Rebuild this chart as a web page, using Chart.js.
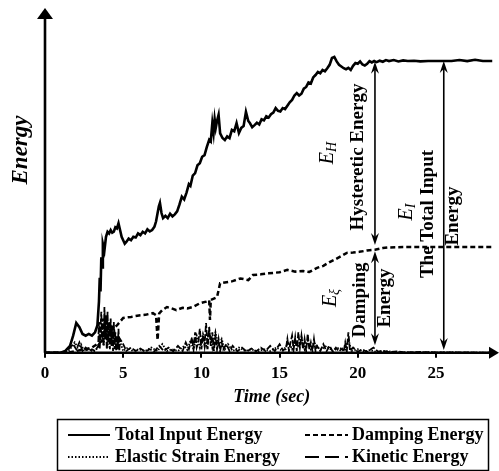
<!DOCTYPE html>
<html>
<head>
<meta charset="utf-8">
<script src="https://cdn.jsdelivr.net/npm/chart.js@4.4.1/dist/chart.umd.min.js"></script>
<style>
html,body{margin:0;padding:0;background:#fff;}
#wrap{width:499px;height:471px;position:relative;}
</style>
</head>
<body>
<div id="wrap"><canvas id="c" width="499" height="471"></canvas></div>
<script>
// ---- data: [time (sec), energy (arbitrary units 0..100)] ----
const xTicks = [0, 5, 10, 15, 20, 25];

const totalInput = [[0,0],[1.0,0],[1.3,0.5],[1.6,2],[1.8,5],[2.0,8.7],[2.2,7.5],[2.4,5.5],[2.6,5],[2.8,5.5],[3.0,5],[3.2,6],[3.35,8],[3.45,15],[3.5,22],[3.55,18],[3.6,28],[3.65,25],[3.7,32],[3.8,30],[3.9,34],[4.0,35.5],[4.1,35],[4.2,36],[4.3,35.2],[4.4,35.5],[4.5,36.8],[4.6,36.5],[4.7,38],[4.8,36],[4.9,34],[5.0,33],[5.1,32],
 [5.2,32.5],[5.35,33.5],[5.5,33],[5.65,34],[5.8,33.8],[5.95,35],[6.1,34.5],[6.25,35.5],[6.4,35],[6.55,36.2],[6.7,35.6],[6.85,36],[7.0,37],[7.1,38.5],[7.2,41],[7.28,43],[7.35,44],[7.45,41],[7.55,39.5],[7.7,40.2],[7.85,39.5],[8.0,40.8],[8.15,40],[8.3,40.6],[8.45,41.5],[8.6,43.5],[8.75,45.8],[8.9,45],[9.05,47],[9.2,49.5],[9.3,49],[9.45,52],[9.6,52.7],[9.75,55],[9.9,55.6],[10.05,57.5],[10.2,58],[10.35,60.4],[10.5,62.5],[10.6,62],[10.7,67.4],[10.78,64.5],[10.85,68.5],[10.92,66],[11.0,68],[11.1,69.8],[11.2,64.4],[11.35,63],[11.5,62.4],[11.65,63.5],[11.8,63],[11.95,65.4],[12.1,65],[12.25,67.4],[12.4,64.5],[12.55,66],[12.7,66.5],[12.85,70.7],[13.0,68],[13.1,67.4],[13.25,66.2],[13.4,66.8],[13.55,67.5],[13.7,67],[13.85,68.5],[14.0,68.2],[14.15,69.4],[14.3,69],[14.45,70],[14.6,70.5],[14.75,71.8],[14.9,71],[15.05,70.8],[15.2,71.8],[15.35,71.5],[15.5,72.5],[15.65,73.5],[15.8,74.2],[15.95,75.5],[16.1,76.2],[16.25,75.5],[16.4,76],[16.55,77.5],[16.7,78],[16.85,79.3],[17.0,79],[17.15,80.8],[17.3,81.5],[17.45,82.4],[17.6,82],[17.75,83],[17.9,82.6],[18.05,83.5],[18.2,84.5],[18.35,86.5],[18.5,86.8],[18.65,85.5],[18.8,84.5],[18.95,84],[19.1,83.5],[19.25,83.2],[19.4,83.6],[19.55,83],[19.7,84.2],[19.85,85],[20.0,84.8],[20.15,85.5],[20.3,84.6],[20.45,84.3],[20.6,84.8],[20.75,85.6],[20.9,85.2],[21.05,85.6],[21.2,85.3],[21.4,85.7],[21.6,85.4],[21.8,85.9],[22.0,85.6],[22.3,85.9],[22.6,85.5],[22.9,85.8],[23.2,85.6],[23.6,85.7],[24.0,85.5],[24.5,85.6],[25.0,85.6],[26.0,85.6],[26.5,85.9],[27.0,85.6],[27.5,86.0],[28.0,85.6],[28.6,85.6]];

const damping = [[0,0],[1.5,0],[2.0,0.5],[2.5,1],[3.0,1.5],[3.5,3],[3.8,4],[4.0,6],[4.3,7],[4.6,8],[5.0,10.2],[5.5,10.5],[6.1,11],[6.5,11.2],[6.9,11.6],[7.1,11],[7.2,3.7],[7.3,11.5],[7.5,12.5],[7.8,13.4],[8.1,13],[8.4,12.5],[8.8,13.2],[9.1,13],[9.5,13.5],[9.9,14.5],[10.3,15],[10.5,15.4],[10.55,9.6],[10.6,15.5],[11.0,16.3],[11.2,20.4],[11.6,20.7],[12.0,21],[12.5,21.8],[13.0,21.3],[13.3,22.8],[13.8,23],[14.3,23.3],[15.0,23.6],[15.5,24.3],[16.0,23.8],[16.5,24],[16.9,23.7],[17.4,24.9],[17.8,25.5],[18.2,26.6],[18.6,27.5],[19.0,28.5],[19.3,29.3],[19.7,29.4],[20.1,29.6],[20.6,30],[21.1,30.2],[21.6,30.7],[22.0,30.9],[23.0,31],[24.0,31],[25.0,31],[26.0,31],[27.0,31],[28.6,31]];

const kinetic = [[0,0],[1.0,0],[1.2,0.3],[1.5,1],[1.8,2.5],[2.0,1],[2.2,3],[2.4,0.5],[2.6,1.5],[2.8,0.5],[3.0,1],[3.2,0.5],
 [3.4,2],[3.45,9],[3.5,1],[3.55,7],[3.6,12],[3.65,3],[3.7,10],[3.75,2],[3.8,13.4],[3.85,4],[3.9,11],[3.95,1],[4.0,12],[4.05,3],[4.1,9],[4.15,1],[4.2,10],[4.25,2],[4.3,8],[4.35,0.5],[4.4,9],[4.45,1],[4.5,6],[4.55,0.5],[4.6,5],[4.65,1],[4.7,7],[4.75,0.5],[4.8,4],
 [5.0,2.5],[5.2,0.5],[5.5,1.5],[5.8,0.5],[6.1,1.2],[6.4,0.3],[6.7,1],[7.0,0.4],[7.3,2],[7.6,0.5],[7.9,1.5],[8.2,0.4],[8.5,2],[8.8,0.5],[9.0,3],[9.2,1],
 [9.4,4.5],[9.5,1],[9.6,6],[9.7,1.5],[9.8,3],[9.9,7],[10.0,1],[10.1,5],[10.2,2],[10.3,8.7],[10.4,1],[10.5,7.5],[10.6,2],[10.7,6],[10.8,0.5],[10.9,5],[11.0,1],[11.1,4],[11.2,0.5],[11.3,3],[11.4,1],
 [11.6,2.5],[11.8,0.5],[12.0,2],[12.3,0.4],[12.6,1.5],[12.9,0.3],[13.2,1.2],[13.5,0.4],[13.8,1.5],[14.1,0.5],[14.4,2],[14.7,0.5],[15.0,2.5],[15.2,0.8],
 [15.4,1],[15.5,4],[15.6,0.5],[15.7,3],[15.8,5],[15.9,1],[16.0,4.5],[16.1,0.5],[16.2,6],[16.3,1.5],[16.4,5],[16.5,1],[16.6,4],[16.7,0.5],[16.8,5.5],[16.9,1],[17.0,3],[17.1,0.5],[17.2,4],[17.3,0.5],[17.4,2],
 [17.6,0.5],[17.8,2.5],[18.0,0.4],[18.2,2],[18.4,0.3],[18.6,1.5],[18.8,0.4],[19.0,1.2],[19.1,0.3],[19.2,3],[19.3,0.4],[19.4,6],[19.5,0.5],[19.7,1.5],[20.0,0.3],[20.3,1],[20.6,0.2],[21.0,1.5],[21.3,0.3],[21.6,0.6],[22.0,0.2],[22.5,0.4],[23.0,0.1],[24.0,0.2],[25.0,0.1],[26.0,0.1],[28.6,0]];

const elasticStrain = [[0,0],[1.3,0],[1.6,1],[1.9,3],[2.1,1.5],[2.3,2.5],[2.5,0.5],[2.8,1],[3.1,0.3],[3.4,1.5],[3.6,6],[3.75,2],[3.85,8],[4.0,1.5],[4.15,9],[4.3,2],[4.45,6],[4.6,1],[4.75,4],[5.0,0.5],[5.3,1.5],[5.6,0.5],[6.0,1],[6.4,0.5],[6.8,1.5],[7.2,0.5],[7.5,2.5],[7.8,0.5],[8.1,1],[8.5,0.5],[8.9,2],[9.1,0.8],[9.3,3.5],[9.5,1],[9.7,5],[9.9,1.5],[10.1,5.5],[10.3,2],[10.5,6.5],[10.7,1.5],[10.9,6],[11.1,2],[11.3,4],[11.5,1],[11.7,2.5],[12.0,0.5],[12.4,1.5],[12.8,0.5],[13.2,1],[13.6,0.4],[14.0,1],[14.4,0.5],[14.8,1.5],[15.2,0.5],[15.6,3],[15.8,1],[16.0,3.5],[16.2,1.5],[16.4,4.5],[16.6,1],[16.8,3.5],[17.0,1],[17.2,3],[17.6,0.8],[18.0,2],[18.4,0.5],[18.8,1.5],[19.2,0.6],[19.4,4],[19.6,0.5],[20.0,1],[20.4,0.3],[20.8,0.8],[21.2,0.2],[21.8,0.5],[22.5,0.1],[24.0,0.1],[28.6,0]];

// annotation values
const arrowHystT = 21.1, arrowTotalT = 25.5;
const totalPlateau = 85.4, dampPlateau = 30.4;

const seriesNames = ['Total Input Energy','Damping Energy','Elastic Strain Energy','Kinetic Energy'];

function pts(arr){ return arr.map(p => ({x: p[0], y: p[1]})); }

const SERIF = '"Liberation Serif", "DejaVu Serif", serif';

function arrowHead(ctx, x, y, dir){ // dir -1 up, +1 down; (x,y) tip
  const L = 12, W = 4;
  ctx.beginPath();
  ctx.moveTo(x, y);
  ctx.lineTo(x - W, y - dir*L);
  ctx.lineTo(x, y - dir*(L-4));
  ctx.lineTo(x + W, y - dir*L);
  ctx.closePath();
  ctx.fill();
}
function vArrow(ctx, x, y1, y2){
  ctx.beginPath(); ctx.moveTo(x, y1+4); ctx.lineTo(x, y2-4); ctx.stroke();
  arrowHead(ctx, x, y1, -1);
  arrowHead(ctx, x, y2, 1);
}
function vtext(ctx, str, cx, cy, font){
  ctx.save(); ctx.translate(cx, cy); ctx.rotate(-Math.PI/2);
  ctx.font = font; ctx.textAlign = 'center'; ctx.textBaseline = 'middle';
  ctx.fillText(str, 0, 0); ctx.restore();
}
function vsub(ctx, main, sub, cx, cy){
  ctx.save(); ctx.translate(cx, cy); ctx.rotate(-Math.PI/2);
  ctx.textBaseline = 'alphabetic'; ctx.textAlign = 'left';
  const f1 = 'italic 20px ' + SERIF, f2 = 'italic 14px ' + SERIF;
  ctx.font = f1; const w1 = ctx.measureText(main).width;
  ctx.font = f2; const w2 = ctx.measureText(sub).width;
  const x0 = -(w1 + w2)/2;
  ctx.font = f1; ctx.fillText(main, x0, 6);
  ctx.font = f2; ctx.fillText(sub, x0 + w1, 9);
  ctx.restore();
}

const decor = {
  id: 'decor',
  afterDatasetsDraw(chart){
    const ctx = chart.ctx, a = chart.chartArea;
    const xs = chart.scales.x, ys = chart.scales.y;
    ctx.save();
    ctx.fillStyle = '#000'; ctx.strokeStyle = '#000';
    // axes with arrowheads
    ctx.lineWidth = 2.6;
    ctx.beginPath(); ctx.moveTo(a.left, a.bottom); ctx.lineTo(a.left, 16); ctx.stroke();
    ctx.beginPath(); ctx.moveTo(a.left-8, 19); ctx.lineTo(a.left, 8); ctx.lineTo(a.left+8, 19); ctx.closePath(); ctx.fill();
    ctx.beginPath(); ctx.moveTo(a.left-1, a.bottom); ctx.lineTo(492, a.bottom); ctx.stroke();
    ctx.beginPath(); ctx.moveTo(489, a.bottom-6); ctx.lineTo(499, a.bottom); ctx.lineTo(489, a.bottom+6); ctx.closePath(); ctx.fill();

    // annotation arrows
    ctx.lineWidth = 1.6;
    const xh = xs.getPixelForValue(arrowHystT), xt = xs.getPixelForValue(arrowTotalT);
    vArrow(ctx, xh, ys.getPixelForValue(totalPlateau), ys.getPixelForValue(dampPlateau + 1.2));
    vArrow(ctx, xh, ys.getPixelForValue(dampPlateau - 0.6), ys.getPixelForValue(2.2));
    vArrow(ctx, xt, ys.getPixelForValue(totalPlateau + 0.2), ys.getPixelForValue(0.8));

    // annotation texts
    const bold = 'bold 19px ' + SERIF;
    vtext(ctx, 'Hysteretic Energy', xh - 17, 157, bold);
    vsub(ctx, 'E', 'H', xh - 48, 153);
    vtext(ctx, 'The Total Input', xt - 16, 214, bold);
    vtext(ctx, 'Energy', xt + 9, 216, bold);
    vsub(ctx, 'E', 'I', xt - 38, 212);
    vtext(ctx, 'Damping', xh - 15, 300, bold);
    vtext(ctx, 'Energy', xh + 10, 298, bold);
    vsub(ctx, 'E', 'ξ', xh - 45, 298);

    // axis titles
    vtext(ctx, 'Energy', 21, 150, 'bold italic 23px ' + SERIF);
    ctx.font = 'bold italic 18px ' + SERIF; ctx.textAlign = 'center'; ctx.textBaseline = 'middle';
    ctx.fillText('Time (sec)', (a.left + a.right)/2, 397);

    // legend
    ctx.lineWidth = 1.5;
    ctx.strokeRect(57.5, 419.5, 431, 51);
    const rows = [435, 457];
    const sx = [[68,110],[305,348]], tx = [115, 352];
    const items = [
      {n: seriesNames[0], d: [], c: 0, r: 0},
      {n: seriesNames[1], d: [5,3], c: 1, r: 0},
      {n: seriesNames[2], d: [1.5,2], c: 0, r: 1},
      {n: seriesNames[3], d: [14,6], c: 1, r: 1}
    ];
    ctx.font = 'bold 18px ' + SERIF; ctx.textAlign = 'left'; ctx.textBaseline = 'middle';
    items.forEach(it => {
      const y = rows[it.r];
      ctx.save(); ctx.lineWidth = 2; ctx.setLineDash(it.d);
      ctx.beginPath(); ctx.moveTo(sx[it.c][0], y); ctx.lineTo(sx[it.c][1], y); ctx.stroke();
      ctx.restore();
      ctx.fillText(it.n, tx[it.c], y);
    });
    ctx.restore();
  }
};

new Chart(document.getElementById('c'), {
  type: 'line',
  data: {
    datasets: [
      {label: seriesNames[3], data: pts(kinetic), borderColor: '#000', borderWidth: 1.8, borderDash: [6,2], pointRadius: 0, fill: false},
      {label: seriesNames[2], data: pts(elasticStrain), borderColor: '#000', borderWidth: 1.8, borderDash: [1.5,1.5], pointRadius: 0, fill: false},
      {label: seriesNames[1], data: pts(damping), borderColor: '#000', borderWidth: 2.5, borderDash: [5,3], pointRadius: 0, fill: false},
      {label: seriesNames[0], data: pts(totalInput), borderColor: '#000', borderWidth: 2.6, pointRadius: 0, fill: false}
    ]
  },
  options: {
    responsive: false,
    animation: false,
    events: [],
    layout: {padding: {left: 45, right: 0.5, top: 12, bottom: 0}},
    plugins: {legend: {display: false}, tooltip: {enabled: false}},
    scales: {
      x: {
        type: 'linear', min: 0, max: 29,
        afterFit(s){ s.height = 118.3; },
        afterBuildTicks(s){ s.ticks = xTicks.map(v => ({value: v})); },
        border: {display: false},
        grid: {display: true, drawOnChartArea: false, drawTicks: true, tickLength: 5, color: '#000', lineWidth: 2},
        ticks: {color: '#000', padding: 6, maxRotation: 0, autoSkip: false,
                font: {family: SERIF, size: 17, weight: 'bold'}}
      },
      y: {type: 'linear', min: 0, max: 100, display: false}
    }
  },
  plugins: [decor]
});
</script>
</body>
</html>
